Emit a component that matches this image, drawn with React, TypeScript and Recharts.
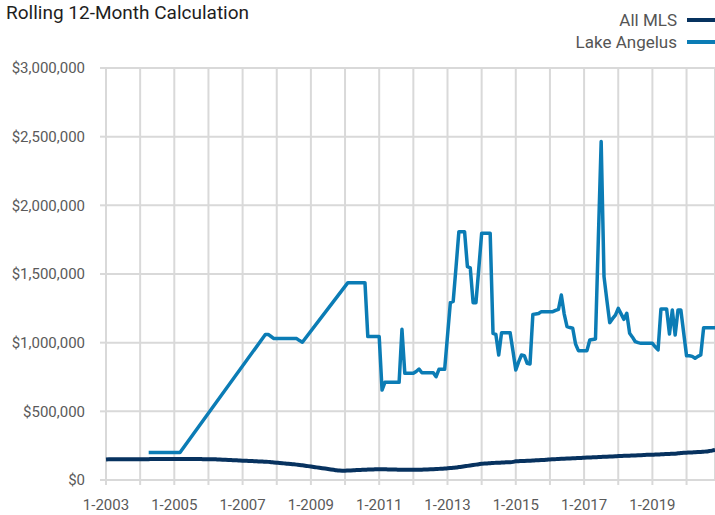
import { CartesianGrid, Line, LineChart, XAxis, YAxis } from "recharts";

// monthly axis: 1-2003 .. 11-2020
const START_YEAR = 2003;
const MONTH_COUNT = 215;
const months = Array.from(
  { length: MONTH_COUNT },
  (_, i) => `${(i % 12) + 1}-${START_YEAR + Math.floor(i / 12)}`
);

const xTickLabels = ["1-2003", "1-2005", "1-2007", "1-2009", "1-2011", "1-2013", "1-2015", "1-2017", "1-2019"];
const yTicks = [0, 500000, 1000000, 1500000, 2000000, 2500000, 3000000];

// values in $ thousands, one row per year
const allMls = [
  150, 151, 151, 151, 152, 152, 152, 152, 152, 152, 152, 152,
  152, 152, 152, 152, 153, 153, 153, 153, 153, 153, 153, 153,
  153, 153, 153, 153, 153, 153, 153, 153, 153, 153, 152, 152,
  152, 151, 151, 150, 149, 148, 147, 146, 145, 144, 143, 142,
  141, 140, 139, 138, 137, 136, 135, 134, 133, 132, 130, 128,
  126, 124, 122, 120, 118, 116, 114, 112, 110, 107, 104, 101,
  98, 95, 92, 89, 86, 83, 80, 77, 74, 71, 69, 68,
  68, 69, 70, 71, 72, 73, 74, 75, 76, 77, 77, 78,
  78, 78, 78, 77, 77, 76, 76, 75, 75, 74, 74, 74,
  74, 74, 75, 75, 76, 77, 78, 79, 80, 81, 82, 83,
  85, 87, 89, 91, 94, 97, 100, 103, 106, 109, 112, 115,
  118, 120, 121, 122, 124, 125, 126, 127, 128, 129, 130, 132,
  136, 137, 138, 139, 140, 141, 142, 143, 144, 145, 146, 148,
  150, 151, 152, 153, 154, 155, 156, 157, 158, 159, 160, 161,
  162, 163, 164, 165, 166, 167, 168, 169, 170, 171, 172, 173,
  174, 175, 176, 176, 177, 178, 179, 180, 181, 182, 183, 183,
  184, 185, 186, 187, 188, 189, 190, 191, 192, 194, 196, 198,
  199, 200, 201, 202, 203, 204, 206, 208, 211, 214, 218,
];

const n = null;
const lakeAngelus = [
  n, n, n, n, n, n, n, n, n, n, n, n,
  n, n, n, 200, 200, 200, 200, 200, 200, 200, 200, 200,
  200, 200, 200, n, n, n, n, n, n, n, n, n,
  n, n, n, n, n, n, n, n, n, n, n, n,
  n, n, n, n, n, n, n, n, 1060, 1060, 1045, 1030,
  1030, 1030, 1030, 1030, 1030, 1030, 1030, 1030, 1015, 1003, n, n,
  n, n, n, n, n, n, n, n, n, n, n, n,
  n, 1437, 1437, 1437, 1437, 1437, 1437, 1437, 1044, 1044, 1044, 1044,
  1044, 655, 711, 711, 711, 711, 711, 711, 1097, 777, 777, 777,
  777, 790, 808, 781, 781, 781, 781, 781, 752, 806, 806, 806,
  1050, 1291, 1300, 1550, 1808, 1808, 1808, 1553, 1545, 1291, 1291, 1540,
  1796, 1796, 1796, 1796, 1068, 1060, 910, 1073, 1073, 1073, 1073, 940,
  801, 860, 910, 905, 850, 845, 1206, 1209, 1212, 1226, 1226, 1226,
  1226, 1226, 1235, 1243, 1347, 1210, 1117, 1110, 1105, 990, 942, 942,
  942, 942, 1019, 1023, 1027, 1750, 2464, 1481, 1310, 1146, 1175, 1201,
  1250, 1210, 1170, 1214, 1068, 1040, 1007, 1000, 995, 995, 995, 995,
  995, 970, 947, 1245, 1245, 1245, 1063, 1238, 1056, 1238, 1238, 1070,
  905, 905, 900, 886, 900, 910, 1109, 1109, 1109, 1109, 1109,
];

const data = months.map((month, i) => ({
  idx: i,
  month,
  allMls: allMls[i] * 1000,
  lake: lakeAngelus[i] == null ? null : (lakeAngelus[i] as number) * 1000,
}));

const NAVY = "#07325f";
const BLUE = "#0b7cb5";
const GRID = "#d9d9d9";
const FONT = "Roboto, sans-serif";

const tickStyle = { fontFamily: FONT, fontSize: 15, fill: "#5a5a5a" };
const yearTicks = months.map((_, i) => i).filter((i) => i % 12 === 0);

const legendItems = [
  { name: "All MLS", color: NAVY },
  { name: "Lake Angelus", color: BLUE },
];

export default function App() {
  return (
    <div style={{ position: "absolute", left: 0, top: 0, width: 715, height: 515, background: "#fff", fontFamily: FONT }}>
      <div style={{ position: "absolute", left: 6, top: 1, fontSize: 19, color: "#1e1e1e", lineHeight: "normal" }}>
        Rolling 12-Month Calculation
      </div>
      <ul style={{ position: "absolute", right: 0, top: 9, margin: 0, padding: 0, listStyle: "none", zIndex: 2 }}>
        {legendItems.map((it) => (
          <li
            key={it.name}
            style={{ display: "flex", alignItems: "center", justifyContent: "flex-end", gap: 10, height: 22, lineHeight: "22px", fontSize: 17, color: "#555" }}
          >
            <span>{it.name}</span>
            <span style={{ display: "inline-block", width: 28, height: 4, background: it.color }} />
          </li>
        ))}
      </ul>
      <LineChart width={715} height={515} data={data} margin={{ top: 68, right: 0, bottom: 0, left: 0 }}>
        <CartesianGrid stroke={GRID} strokeWidth={2} />
        <XAxis
          dataKey="idx"
          type="number"
          domain={[0, MONTH_COUNT - 1]}
          ticks={yearTicks}
          interval={0}
          tickFormatter={(v: number) => (xTickLabels.includes(months[v]) ? months[v] : "")}
          tick={tickStyle}
          tickLine={{ stroke: GRID, strokeWidth: 2 }}
          tickSize={5}
          tickMargin={14}
          axisLine={false}
          height={35}
        />
        <YAxis
          domain={[0, 3000000]}
          ticks={yTicks}
          tickFormatter={(v: number) => "$" + v.toLocaleString("en-US")}
          tick={tickStyle}
          tickLine={{ stroke: GRID, strokeWidth: 2 }}
          tickSize={6}
          tickMargin={15}
          axisLine={false}
          width={106}
        />
        <Line
          type="monotone"
          dataKey="allMls"
          stroke={NAVY}
          strokeWidth={4}
          dot={false}
          isAnimationActive={false}
        />
        <Line
          type="linear"
          dataKey="lake"
          stroke={BLUE}
          strokeWidth={3.5}
          dot={false}
          connectNulls
          strokeLinejoin="round"
          isAnimationActive={false}
        />
      </LineChart>
    </div>
  );
}
